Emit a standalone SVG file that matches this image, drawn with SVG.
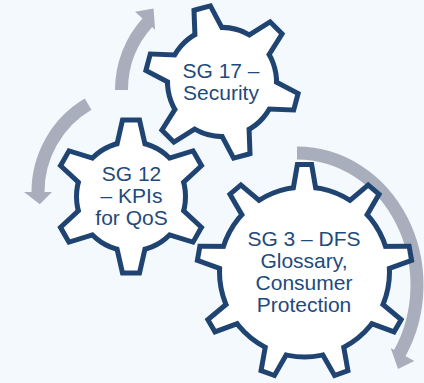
<svg xmlns="http://www.w3.org/2000/svg" width="424" height="383" viewBox="0 0 424 383">
<defs>
<style>
.edge{fill:#1F4472;stroke:#1F4472;stroke-width:10;stroke-linejoin:miter;stroke-miterlimit:10}
.face{fill:#FFFFFF;stroke:none}
.lbl{font-family:"Liberation Sans",Arial,sans-serif;font-size:21px;fill:#1F4A7C;text-anchor:middle}
.band{fill:none;stroke:#A9AEBC;stroke-width:13;stroke-linecap:butt}
.head{fill:#A9AEBC}
</style>
<polygon id="tooth6" points="-6.5,-74 6.5,-74 14.7,-38 -14.7,-38"/>
<g id="g6shape">
<circle r="52"/>
<use href="#tooth6"/>
<use href="#tooth6" transform="rotate(60)"/>
<use href="#tooth6" transform="rotate(120)"/>
<use href="#tooth6" transform="rotate(180)"/>
<use href="#tooth6" transform="rotate(240)"/>
<use href="#tooth6" transform="rotate(300)"/>
</g>
<polygon id="tooth9" points="-5,-105 5,-105 11.4,-68 -11.4,-68"/>
<g id="g9shape">
<circle r="82.5"/>
<use href="#tooth9"/>
<use href="#tooth9" transform="rotate(40)"/>
<use href="#tooth9" transform="rotate(80)"/>
<use href="#tooth9" transform="rotate(120)"/>
<use href="#tooth9" transform="rotate(160)"/>
<use href="#tooth9" transform="rotate(200)"/>
<use href="#tooth9" transform="rotate(240)"/>
<use href="#tooth9" transform="rotate(280)"/>
<use href="#tooth9" transform="rotate(320)"/>
</g>
</defs>
<rect x="0" y="0" width="424" height="383" fill="#F4F9FD"/>
<g id="connectors">
<path class="band" d="M121.5,90 A100.5,100.5 0 0 1 147.9,22.1"/>
<polygon class="head" points="135.06,11.71 153.54,8.42 155.12,29.78"/>
<path class="band" d="M88.1,104.2 A102,102 0 0 0 38,192.9"/>
<polygon class="head" points="52,192 39.8,204.3 24,192"/>
<path class="band" d="M297,153 A120,132 0 0 1 399.3,354"/>
<polygon class="head" points="414.4,360.9 398,369.1 390.7,348"/>
</g>
<g id="sg12">
<g transform="translate(131,196.5)">
<use href="#g6shape" class="edge"/>
<use href="#g6shape" class="face"/>
</g>
<text class="lbl" x="131.5" y="181">SG 12</text>
<text class="lbl" x="131.5" y="203">– KPIs</text>
<text class="lbl" x="131.5" y="224.5">for QoS</text>
</g>
<g id="sg17">
<g transform="translate(222,82) rotate(-15)">
<use href="#g6shape" class="edge"/>
<use href="#g6shape" class="face"/>
</g>
<text class="lbl" x="221" y="77.5">SG 17 –</text>
<text class="lbl" x="221" y="100">Security</text>
</g>
<g id="sg3">
<g transform="translate(304.5,272)">
<use href="#g9shape" class="edge"/>
<use href="#g9shape" class="face"/>
</g>
<text class="lbl" x="304" y="246">SG 3 – DFS</text>
<text class="lbl" x="304" y="268">Glossary,</text>
<text class="lbl" x="304" y="290">Consumer</text>
<text class="lbl" x="304" y="312">Protection</text>
</g>
</svg>
